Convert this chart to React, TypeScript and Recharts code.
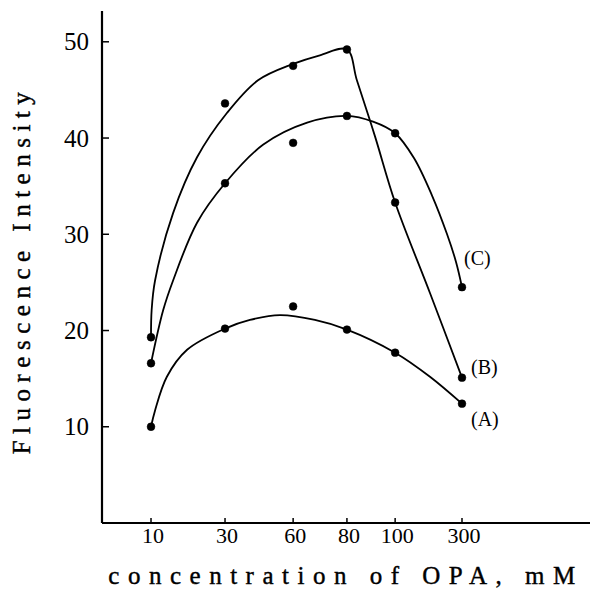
import React from "react";
import { ComposedChart, Line, XAxis, YAxis, LabelList } from "recharts";

// OPA concentration (mM) shown on the hand-drawn, non-uniform x axis
const concentrations = [10, 30, 60, 80, 100, 300];
// where each concentration sits along that axis (10 -> 0, 300 -> 10)
const axisPlace = [0, 2.38, 4.57, 6.3, 7.85, 10];
const yTicks = [10, 20, 30, 40, 50];
const curveNames = ["(A)", "(B)", "(C)"];

// measured points (fluorescence intensity at each concentration)
const measuredA = [10.0, 20.2, 22.5, 20.1, 17.7, 12.4];
const measuredB = [19.3, 43.6, 47.5, 49.2, 33.3, 15.1];
const measuredC = [16.6, 35.3, 39.5, 42.3, 40.5, 24.5];

// hand-drawn smooth curves as [axis place, intensity]
const traceA: [number, number][] = [
  [0, 10.0], [0.13, 11.7], [0.51, 15.2], [1.16, 18.0], [2.38, 20.2], [3.18, 21.1],
  [4.15, 21.6], [5.27, 21.1], [6.3, 20.1], [7.85, 17.7], [8.97, 15.2], [10, 12.4],
];
const traceB: [number, number][] = [
  [0, 19.3], [0.02, 22.1], [0.13, 25.2], [0.71, 32.2], [1.48, 38.0], [2.44, 42.6],
  [3.44, 46.0], [4.57, 47.7], [5.43, 48.6], [6.3, 49.2], [6.62, 46.0], [7.2, 40.2],
  [7.85, 33.3], [8.97, 23.9], [10, 15.1],
];
const traceC: [number, number][] = [
  [0, 16.6], [0.39, 22.1], [0.71, 25.2], [1.48, 31.2], [2.38, 35.3], [3.6, 39.3],
  [5.02, 41.6], [6.3, 42.3], [7.14, 41.7], [7.85, 40.5], [8.46, 37.9], [9.04, 34.0],
  [9.52, 30.0], [9.81, 27.1], [10, 24.5],
];

const FONT = "'Liberation Serif', 'DejaVu Serif', serif";

// smooth curve through every traced point (centripetal Catmull-Rom, d3-style curve factory)
const throughPoints = (context: any) => {
  let pts: number[][] = [];
  const ALPHA = 0.5;
  const dist = (a: number[], b: number[]) => Math.hypot(b[0] - a[0], b[1] - a[1]);
  return {
    areaStart() {},
    areaEnd() {},
    lineStart() {
      pts = [];
    },
    point(x: number, y: number) {
      pts.push([+x, +y]);
    },
    lineEnd() {
      const n = pts.length;
      if (!n) return;
      context.moveTo(pts[0][0], pts[0][1]);
      for (let i = 0; i < n - 1; i++) {
        const p0 = i > 0 ? pts[i - 1] : null;
        const p1 = pts[i];
        const p2 = pts[i + 1];
        const p3 = i + 2 < n ? pts[i + 2] : null;
        const l12a = Math.pow(dist(p1, p2), ALPHA);
        const l12_2a = l12a * l12a;
        let c1 = [p1[0], p1[1]];
        let c2 = [p2[0], p2[1]];
        if (p0) {
          const l01a = Math.pow(dist(p0, p1), ALPHA);
          const l01_2a = l01a * l01a;
          if (l01a > 1e-9) {
            const a = 2 * l01_2a + 3 * l01a * l12a + l12_2a;
            const nn = 3 * l01a * (l01a + l12a);
            c1 = [
              (p1[0] * a - p0[0] * l12_2a + p2[0] * l01_2a) / nn,
              (p1[1] * a - p0[1] * l12_2a + p2[1] * l01_2a) / nn,
            ];
          }
        }
        if (p3) {
          const l23a = Math.pow(dist(p2, p3), ALPHA);
          const l23_2a = l23a * l23a;
          if (l23a > 1e-9) {
            const b = 2 * l23_2a + 3 * l23a * l12a + l12_2a;
            const m = 3 * l23a * (l23a + l12a);
            c2 = [
              (p2[0] * b + p1[0] * l23_2a - p3[0] * l12_2a) / m,
              (p2[1] * b + p1[1] * l23_2a - p3[1] * l12_2a) / m,
            ];
          }
        }
        context.bezierCurveTo(c1[0], c1[1], c2[0], c2[1], p2[0], p2[1]);
      }
    },
  };
};

const pointRows = (vals: number[]) =>
  concentrations.map((c, i) => ({ conc: c, place: axisPlace[i], value: vals[i] }));

const traceRows = (trace: [number, number][], tag: string) =>
  trace.map(([p, v], i) => ({ place: p, value: v, tag: i === trace.length - 1 ? tag : undefined }));

const YTick = (props: any) => {
  const { x, y, payload } = props;
  return (
    <g>
      <line x1={x} y1={y} x2={x + 7} y2={y} stroke="#000" strokeWidth={1.5} />
      <text x={x - 13} y={y + 8.5} textAnchor="end" fontFamily={FONT} fontSize={25} fill="#000">
        {payload.value}
      </text>
    </g>
  );
};

const XTick = (props: any) => {
  const { x, y, payload } = props;
  const idx = axisPlace.indexOf(payload.value);
  const label = idx >= 0 ? String(concentrations[idx]) : "";
  return (
    <g>
      <line x1={x} y1={y} x2={x} y2={y - 5} stroke="#000" strokeWidth={1.5} />
      <text x={x + 2} y={y + 20} textAnchor="middle" fontFamily={FONT} fontSize={22} fill="#000">
        {label}
      </text>
    </g>
  );
};

const makeTag = (dx: number, dy: number) => (props: any) => {
  const { x, y, value } = props;
  if (!value) return null;
  return (
    <text x={x + dx} y={y + dy} fontFamily={FONT} fontSize={20} fill="#000">
      {value}
    </text>
  );
};

export default function App() {
  const dot = { r: 3.9, fill: "#000", stroke: "#000", strokeWidth: 0.5 };
  const curve = { type: throughPoints as any, stroke: "#000", strokeWidth: 1.8, dot: false, activeDot: false, isAnimationActive: false };
  return (
    <div style={{ position: "absolute", left: 0, top: 0, width: 592, height: 593, background: "#fff" }}>
      <ComposedChart width={592} height={593} margin={{ top: 11, right: 2, left: 0, bottom: 0 }}>
        <XAxis
          type="number"
          dataKey="place"
          domain={[-1.576, 14.116]}
          ticks={axisPlace}
          allowDataOverflow
          height={70}
          tickSize={0}
          tickMargin={0}
          tickLine={false}
          tick={<XTick />}
          axisLine={{ stroke: "#000", strokeWidth: 2.2 }}
          interval={0}
        />
        <YAxis
          type="number"
          domain={[0, 53.2]}
          ticks={yTicks}
          allowDataOverflow
          width={102}
          tickSize={0}
          tickMargin={0}
          tickLine={false}
          tick={<YTick />}
          axisLine={{ stroke: "#000", strokeWidth: 2.2 }}
          interval={0}
        />
        <Line data={traceRows(traceA, curveNames[0])} dataKey="value" {...curve}>
          <LabelList dataKey="tag" content={makeTag(9, 22)} />
        </Line>
        <Line data={traceRows(traceB, curveNames[1])} dataKey="value" {...curve}>
          <LabelList dataKey="tag" content={makeTag(9, -4)} />
        </Line>
        <Line data={traceRows(traceC, curveNames[2])} dataKey="value" {...curve}>
          <LabelList dataKey="tag" content={makeTag(2, -22)} />
        </Line>
        <Line data={pointRows(measuredA)} dataKey="value" stroke="none" dot={dot} activeDot={false} isAnimationActive={false} />
        <Line data={pointRows(measuredB)} dataKey="value" stroke="none" dot={dot} activeDot={false} isAnimationActive={false} />
        <Line data={pointRows(measuredC)} dataKey="value" stroke="none" dot={dot} activeDot={false} isAnimationActive={false} />
        <text
          x={21}
          y={270}
          transform="rotate(-90 21 270)"
          textAnchor="middle"
          dominantBaseline="central"
          fontFamily={FONT}
          fontSize={25}
          letterSpacing={6.5}
          stroke="#000"
          strokeWidth={0.4}
          fill="#000"
        >
          Fluorescence Intensity
        </text>
        <text
          x={346}
          y={584}
          textAnchor="middle"
          fontFamily={FONT}
          fontSize={25}
          letterSpacing={8.5}
          stroke="#000"
          strokeWidth={0.4}
          fill="#000"
        >
          concentration of OPA, mM
        </text>
      </ComposedChart>
    </div>
  );
}
